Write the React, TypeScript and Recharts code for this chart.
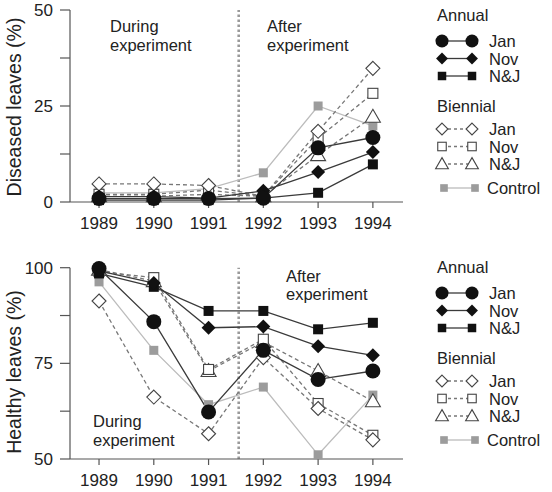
import { LineChart, Line, XAxis, YAxis, ReferenceLine } from "recharts";

const YEARS = [1989, 1990, 1991, 1992, 1993, 1994];

// diseased leaves (%)
const DIS_ANNUAL_JAN = [0.9, 0.9, 0.9, 1.0, 14.1, 16.8];
const DIS_ANNUAL_NOV = [1.4, 1.4, 1.0, 2.9, 7.8, 13.0];
const DIS_ANNUAL_NJ = [0.5, 0.5, 0.5, 1.0, 2.4, 9.8];
const DIS_BIEN_JAN = [4.7, 4.7, 4.3, 1.5, 18.4, 34.8];
const DIS_BIEN_NOV = [2.0, 2.0, 3.1, 1.5, 16.6, 28.3];
const DIS_BIEN_NJ = [1.5, 1.5, 2.0, 1.5, 12.2, 22.2];
const DIS_CONTROL = [2.4, 2.4, 3.5, 7.6, 25.0, 19.8];

// healthy leaves (%)
const HEA_ANNUAL_JAN = [99.8, 85.9, 62.3, 78.4, 70.8, 73.0];
const HEA_ANNUAL_NOV = [99.2, 96.0, 84.3, 84.6, 79.5, 77.1];
const HEA_ANNUAL_NJ = [98.5, 95.0, 88.7, 88.7, 83.9, 85.6];
const HEA_BIEN_JAN = [91.3, 66.2, 56.6, 76.5, 63.2, 55.0];
const HEA_BIEN_NOV = [99.0, 97.4, 73.4, 81.3, 64.5, 56.2];
const HEA_BIEN_NJ = [99.5, 96.5, 73.0, 80.6, 73.0, 65.1];
const HEA_CONTROL = [96.3, 78.4, 64.2, 68.8, 51.1, 66.7];

const DIS_TICKS = [0, 12.5, 25, 37.5, 50];
const HEA_TICKS = [50, 62.5, 75, 87.5, 100];

const FONT = '"Liberation Sans", Arial, Helvetica, sans-serif';
const INK = "#222";
const AXIS = "#555";
const ANNUAL_LINE = "#3a3a3a";
const BIEN_LINE = "#777";
const CONTROL_LINE = "#bcbcbc";
const CONTROL_FILL = "#9c9c9c";

type Shape = "circle" | "diamond" | "square" | "odiamond" | "osquare" | "triangle" | "control";

function Marker({ shape, cx, cy, s = 1 }: { shape: Shape; cx: number; cy: number; s?: number }) {
  switch (shape) {
    case "circle":
      return <circle cx={cx} cy={cy} r={7.5 * s} fill="#111" />;
    case "diamond": {
      const h = 7 * s;
      return <polygon points={`${cx},${cy - h} ${cx + h},${cy} ${cx},${cy + h} ${cx - h},${cy}`} fill="#111" />;
    }
    case "square": {
      const h = 5 * s;
      return <rect x={cx - h} y={cy - h} width={2 * h} height={2 * h} fill="#111" />;
    }
    case "odiamond": {
      const h = 7 * s;
      return (
        <polygon
          points={`${cx},${cy - h} ${cx + h},${cy} ${cx},${cy + h} ${cx - h},${cy}`}
          fill="#fff"
          stroke="#444"
          strokeWidth={1.1}
        />
      );
    }
    case "osquare": {
      const h = 5 * s;
      return <rect x={cx - h} y={cy - h} width={2 * h} height={2 * h} fill="#fff" stroke="#444" strokeWidth={1.1} />;
    }
    case "triangle": {
      const w = 7.5 * s;
      const t = 7.5 * s;
      const b = 5.5 * s;
      return (
        <polygon
          points={`${cx},${cy - t} ${cx + w},${cy + b} ${cx - w},${cy + b}`}
          fill="#fff"
          stroke="#444"
          strokeWidth={1.1}
        />
      );
    }
    default: {
      const h = 4.5 * s;
      return <rect x={cx - h} y={cy - h} width={2 * h} height={2 * h} fill={CONTROL_FILL} />;
    }
  }
}

type Series = { key: string; shape: Shape; stroke: string; dash?: string };

// drawn back to front: control, biennial, annual
const SERIES: Series[] = [
  { key: "control", shape: "control", stroke: CONTROL_LINE },
  { key: "bNJ", shape: "triangle", stroke: BIEN_LINE, dash: "4 3" },
  { key: "bNov", shape: "osquare", stroke: BIEN_LINE, dash: "4 3" },
  { key: "bJan", shape: "odiamond", stroke: BIEN_LINE, dash: "4 3" },
  { key: "aNJ", shape: "square", stroke: ANNUAL_LINE },
  { key: "aNov", shape: "diamond", stroke: ANNUAL_LINE },
  { key: "aJan", shape: "circle", stroke: ANNUAL_LINE },
];

const diseasedData = YEARS.map((year, i) => ({
  year,
  aJan: DIS_ANNUAL_JAN[i],
  aNov: DIS_ANNUAL_NOV[i],
  aNJ: DIS_ANNUAL_NJ[i],
  bJan: DIS_BIEN_JAN[i],
  bNov: DIS_BIEN_NOV[i],
  bNJ: DIS_BIEN_NJ[i],
  control: DIS_CONTROL[i],
}));

const healthyData = YEARS.map((year, i) => ({
  year,
  aJan: HEA_ANNUAL_JAN[i],
  aNov: HEA_ANNUAL_NOV[i],
  aNJ: HEA_ANNUAL_NJ[i],
  bJan: HEA_BIEN_JAN[i],
  bNov: HEA_BIEN_NOV[i],
  bNJ: HEA_BIEN_NJ[i],
  control: HEA_CONTROL[i],
}));

const textStyle = { fontFamily: FONT, fill: INK };

type PanelProps = {
  data: typeof diseasedData;
  height: number;
  top: number;
  domain: [number, number];
  ticks: number[];
  title: string;
  titleY: number;
  notes: { text: string; x: number; y: number }[];
};

function Panel({ data, height, top, domain, ticks, title, titleY, notes }: PanelProps) {
  return (
    <LineChart
      width={410}
      height={height}
      data={data}
      margin={{ top, right: 7, left: 0, bottom: 0 }}
      style={{ fontFamily: FONT }}
    >
      <XAxis
        dataKey="year"
        type="number"
        domain={[1988.47, 1994.55]}
        ticks={YEARS}
        allowDataOverflow
        height={33}
        tickSize={6}
        tickMargin={9}
        axisLine={{ stroke: AXIS, strokeWidth: 1.2 }}
        tickLine={{ stroke: AXIS, strokeWidth: 1.2 }}
        tick={{ fontSize: 17, ...textStyle }}
      />
      <YAxis
        type="number"
        domain={domain}
        ticks={ticks}
        width={70}
        tickSize={10}
        tickMargin={7}
        tickFormatter={(v: number) => (v % 25 === 0 ? String(v) : "")}
        axisLine={{ stroke: AXIS, strokeWidth: 1.2 }}
        tickLine={{ stroke: AXIS, strokeWidth: 1.2 }}
        tick={{ fontSize: 17, ...textStyle }}
      />
      <ReferenceLine x={1991.55} stroke="#9a9a9a" strokeWidth={2.6} strokeDasharray="2.4 2.6" />
      {SERIES.map((s) => (
        <Line
          key={s.key}
          dataKey={s.key}
          stroke={s.stroke}
          strokeWidth={1.3}
          strokeDasharray={s.dash}
          isAnimationActive={false}
          activeDot={false}
          dot={(p: any) => <Marker key={`${s.key}-${p.index}`} shape={s.shape} cx={p.cx} cy={p.cy} />}
        />
      ))}
      <text
        x={14}
        y={titleY}
        transform={`rotate(-90, 14, ${titleY})`}
        textAnchor="middle"
        dominantBaseline="central"
        fontSize={19.5}
        style={textStyle}
      >
        {title}
      </text>
      {notes.map((n) => (
        <text key={`${n.text}-${n.y}`} x={n.x} y={n.y} fontSize={16.5} style={textStyle}>
          {n.text}
        </text>
      ))}
    </LineChart>
  );
}

type Entry = { label: string; y: number; shape?: Shape; stroke?: string; dash?: string; header?: boolean };

const LEGEND: Entry[] = [
  { label: "Annual", y: 15, header: true },
  { label: "Jan", y: 41, shape: "circle", stroke: ANNUAL_LINE },
  { label: "Nov", y: 58.5, shape: "diamond", stroke: ANNUAL_LINE },
  { label: "N&J", y: 76, shape: "square", stroke: ANNUAL_LINE },
  { label: "Biennial", y: 106, header: true },
  { label: "Jan", y: 129, shape: "odiamond", stroke: BIEN_LINE, dash: "3 3" },
  { label: "Nov", y: 146.5, shape: "osquare", stroke: BIEN_LINE, dash: "3 3" },
  { label: "N&J", y: 164, shape: "triangle", stroke: BIEN_LINE, dash: "3 3" },
  { label: "Control", y: 188, shape: "control", stroke: CONTROL_LINE },
];

function Key({ top }: { top: number }) {
  return (
    <svg width={140} height={205} style={{ position: "absolute", left: 412, top }}>
      {LEGEND.map((e) => {
        if (e.header) {
          return (
            <text key={e.label} x={25} y={e.y + 6} fontSize={16.5} style={textStyle}>
              {e.label}
            </text>
          );
        }
        const ctl = e.shape === "control";
        const x1 = ctl ? 32 : 30;
        const x2 = ctl ? 63 : 60;
        const small = e.shape === "circle" ? 0.87 : 0.85;
        return (
          <g key={`${e.label}-${e.y}`}>
            <line x1={x1} y1={e.y} x2={x2} y2={e.y} stroke={e.stroke} strokeWidth={1.3} strokeDasharray={e.dash} />
            <Marker shape={e.shape!} cx={x1} cy={e.y} s={small} />
            <Marker shape={e.shape!} cx={x2} cy={e.y} s={small} />
            <text x={ctl ? 75 : 77} y={e.y + 6} fontSize={16.5} style={textStyle}>
              {e.label}
            </text>
          </g>
        );
      })}
    </svg>
  );
}

export default function App() {
  return (
    <div style={{ position: "absolute", left: 0, top: 0, width: 552, height: 492, background: "#fff", fontFamily: FONT }}>
      <div style={{ position: "absolute", left: 0, top: 0 }}>
        <Panel
          data={diseasedData}
          height={235}
          top={10}
          domain={[0, 50]}
          ticks={DIS_TICKS}
          title="Diseased leaves (%)"
          titleY={107}
          notes={[
            { text: "During", x: 110, y: 32 },
            { text: "experiment", x: 110, y: 51 },
            { text: "After", x: 267, y: 32 },
            { text: "experiment", x: 267, y: 51 },
          ]}
        />
      </div>
      <div style={{ position: "absolute", left: 0, top: 240 }}>
        <Panel
          data={healthyData}
          height={252}
          top={27.7}
          domain={[50, 100]}
          ticks={HEA_TICKS}
          title="Healthy leaves (%)"
          titleY={132}
          notes={[
            { text: "During", x: 93, y: 187 },
            { text: "experiment", x: 93, y: 205.5 },
            { text: "After", x: 286, y: 42 },
            { text: "experiment", x: 286, y: 60 },
          ]}
        />
      </div>
      <Key top={0} />
      <Key top={252} />
    </div>
  );
}
